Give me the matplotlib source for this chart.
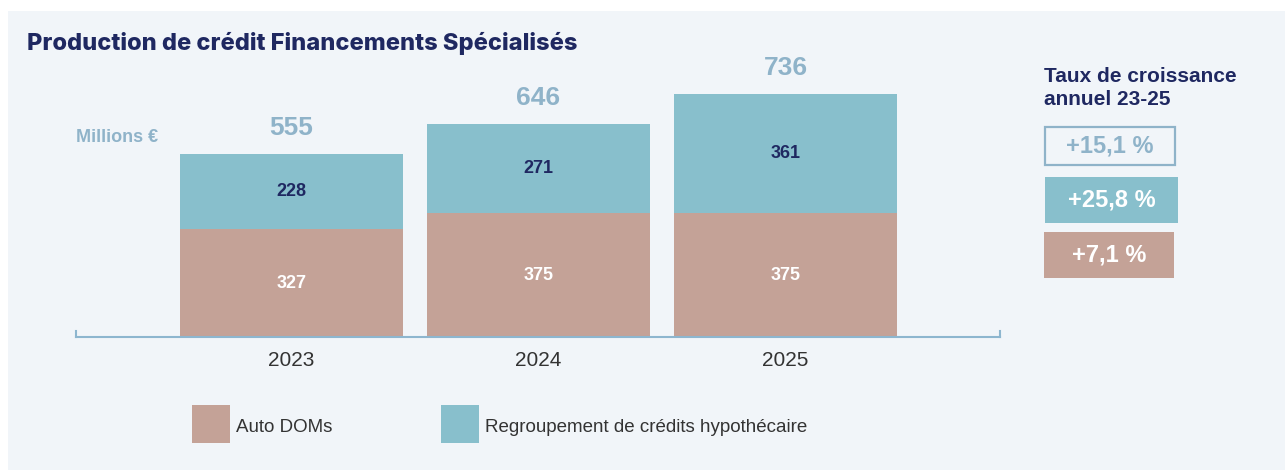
import matplotlib
matplotlib.use('Agg')
import matplotlib.pyplot as plt
from matplotlib.patches import Rectangle

# data
years = ['2023', '2024', '2025']
auto_doms = [327, 375, 375]
regroupement = [228, 271, 361]
totals = [a + r for a, r in zip(auto_doms, regroupement)]
growth_labels = ['+15,1 %', '+25,8 %', '+7,1 %']
series_names = ['Auto DOMs', 'Regroupement de crédits hypothécaire']

PINK = '#c4a297'
TEAL = '#88bfcc'
NAVY = '#1f2861'
LIGHT = '#8fb3c9'
PANEL = '#f1f5f9'
AXIS = '#8db6cf'

W, H = 1285, 470
plt.rcParams['font.family'] = ['Liberation Sans', 'DejaVu Sans']

fig = plt.figure(figsize=(W / 100, H / 100), dpi=100)
fig.patch.set_facecolor('white')


def fx(px):
    return px / W


def fy(py):
    # py measured from top of the picture
    return 1 - py / H


def box(x0, y0, x1, y1, **kw):
    fig.patches.append(Rectangle((fx(x0), fy(y1)), fx(x1) - fx(x0), fy(y0) - fy(y1),
                                 transform=fig.transFigure, **kw))


# panel background
box(8, 11, 1285, 470, facecolor=PANEL, edgecolor='none', zorder=-5)

# main axes: from axis line (y=337) up to top of tallest bar (y=94)
ax = fig.add_axes([fx(76), fy(337), fx(1000) - fx(76), fy(94) - fy(337)])
ax.set_facecolor('none')
ax.set_zorder(2)
x = list(range(len(years)))
bw = 223 / 247
ax.bar(x, auto_doms, width=bw, color=PINK, zorder=2)
ax.bar(x, regroupement, width=bw, bottom=auto_doms, color=TEAL, zorder=2)
ax.set_xlim(-0.872, 2.868)
ax.set_ylim(0, max(totals))

for i in x:
    ax.text(i, auto_doms[i] / 2, str(auto_doms[i]), ha='center', va='center',
            color='white', fontsize=13, fontweight='bold')
    ax.text(i, auto_doms[i] + regroupement[i] / 2, str(regroupement[i]), ha='center',
            va='center', color=NAVY, fontsize=13, fontweight='bold')
    ax.annotate(str(totals[i]), (i, totals[i]), xytext=(0, 18.5), textcoords='offset points',
                ha='center', va='center', color=LIGHT, fontsize=19, fontweight='bold',
                annotation_clip=False)

for s in ['top', 'right', 'left']:
    ax.spines[s].set_visible(False)
ax.spines['bottom'].set_color(AXIS)
ax.spines['bottom'].set_linewidth(1.5)
ax.axvline(-0.872, 0, 6 / 243, color=AXIS, lw=1.5, clip_on=False)
ax.axvline(2.868, 0, 6 / 243, color=AXIS, lw=1.5, clip_on=False)
ax.set_yticks([])
ax.set_xticks(x)
ax.set_xticklabels(years, fontsize=15, color='#333333')
ax.tick_params(axis='x', length=0, pad=10)

# title and unit
fig.text(fx(27), fy(43), 'Production de crédit Financements Spécialisés', family='Inter',
         fontsize=17, fontweight='heavy', color=NAVY, ha='left', va='center')
fig.text(fx(76), fy(137), 'Millions €', fontsize=13, fontweight='bold', color=LIGHT,
         ha='left', va='center')

# growth panel
fig.text(fx(1044), fy(88), 'Taux de croissance\nannuel 23-25', fontsize=15, fontweight='bold',
         color=NAVY, ha='left', va='center', linespacing=1.25)
gboxes = [(1045, 127, 1175, 165), (1045, 177, 1178, 223), (1044, 232, 1174, 278)]
gstyles = [dict(facecolor=PANEL, edgecolor=LIGHT, linewidth=1.6),
           dict(facecolor=TEAL, edgecolor='none'),
           dict(facecolor=PINK, edgecolor='none')]
gcolors = [LIGHT, 'white', 'white']
for (x0, y0, x1, y1), st, c, lab in zip(gboxes, gstyles, gcolors, growth_labels):
    box(x0, y0, x1, y1, zorder=1, **st)
    fig.text(fx((x0 + x1) / 2), fy((y0 + y1) / 2), lab, fontsize=17, fontweight='bold',
             color=c, ha='center', va='center')

# legend
for (sx, tx), name, col in zip([(192, 236), (441, 485)], series_names, [PINK, TEAL]):
    box(sx, 405, sx + 38, 443, facecolor=col, edgecolor='none', zorder=1)
    fig.text(fx(tx), fy(428), name, fontsize=13.5, color='#333333', ha='left', va='center')

fig.savefig('out.png', dpi=100, facecolor=fig.get_facecolor())
